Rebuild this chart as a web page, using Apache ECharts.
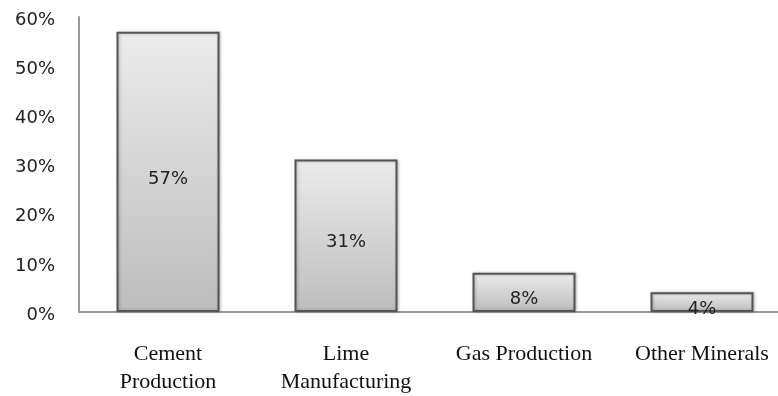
<!DOCTYPE html>
<html>
<head>
<meta charset="utf-8">
<script src="https://cdn.jsdelivr.net/npm/echarts@6/dist/echarts.min.js"></script>
<style>
  html, body { margin: 0; padding: 0; background: #fff; overflow: hidden; }
  #chart { width: 800px; height: 396px; }
</style>
</head>
<body>
<div id="chart"></div>
<script>
// Share of emissions by source category
const categories = ['Cement\nProduction', 'Lime\nManufacturing', 'Gas Production', 'Other Minerals'];
const shares = [57, 31, 8, 4];
const yTicks = { min: 0, max: 60, interval: 10 };

const chart = echarts.init(document.getElementById('chart'));
chart.setOption({
  animation: false,
  backgroundColor: '#ffffff',
  grid: { left: 79, top: 17, width: 712, height: 296 },
  xAxis: {
    type: 'category',
    data: categories,
    axisLine: { show: true, lineStyle: { color: '#9a9a9a', width: 2 } },
    axisTick: { show: false },
    axisLabel: {
      interval: 0,
      margin: 28,
      color: '#111',
      fontFamily: 'Liberation Serif',
      fontSize: 22,
      lineHeight: 28
    }
  },
  yAxis: {
    type: 'value',
    min: yTicks.min,
    max: yTicks.max,
    interval: yTicks.interval,
    splitLine: { show: false },
    axisLine: { show: true, lineStyle: { color: '#9a9a9a', width: 2 } },
    axisTick: { show: false },
    axisLabel: {
      margin: 24,
      color: '#222',
      fontFamily: 'DejaVu Sans',
      fontSize: 18,
      verticalAlign: 'top',
      lineHeight: 6,
      formatter: '{value}%'
    }
  },
  series: [{
    type: 'bar',
    data: shares,
    barWidth: 103,
    itemStyle: {
      color: new echarts.graphic.LinearGradient(0, 0, 0, 1, [
        { offset: 0, color: '#ebebeb' },
        { offset: 1, color: '#bdbdbd' }
      ]),
      borderColor: '#555555',
      borderWidth: 2,
      shadowColor: 'rgba(0,0,0,0.25)',
      shadowBlur: 3,
      shadowOffsetX: 1,
      shadowOffsetY: 0
    },
    label: {
      show: true,
      position: 'inside',
      offset: [0, 7],
      formatter: '{c}%',
      color: '#222',
      fontFamily: 'DejaVu Sans',
      fontSize: 18
    }
  }]
});
</script>
</body>
</html>
